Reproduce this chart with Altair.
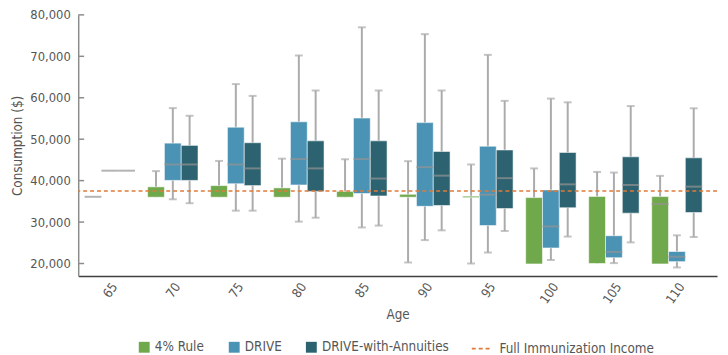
import altair as alt
import pandas as pd

FONT = "DejaVu Sans Condensed, Liberation Sans Narrow, sans-serif"
TEXT = "#555555"

ages = ["65", "70", "75", "80", "85", "90", "95", "100", "105", "110"]
series = ["4% Rule", "DRIVE", "DRIVE-with-Annuities"]
colors = ["#70A84C", "#4A93B5", "#2D6370"]

# 4% Rule
rule_min = [None, None, None, None, None, 20250, 20000, None, None, None]
rule_q1 = [None, 36000, 36000, 36000, 36000, 36000, 35900, 19900, 20000, 19900]
rule_med = [36100, None, None, None, None, None, None, None, None, 34350]
rule_q3 = [None, 38500, 38800, 38250, 37400, 36700, 36250, 35900, 36200, 36150]
rule_max = [None, 42300, 44750, 45300, 45150, 44700, 43900, 42950, 42100, 41150]

# DRIVE
drive_min = [None, 35500, 32750, 30100, 28700, 25650, 22650, 20850, 20100, 19050]
drive_q1 = [None, 40050, 39250, 38950, 36900, 33800, 29150, 23750, 21400, 20450]
drive_med = [42400, 43900, 43900, 45200, 45200, 43250, 36600, 28950, 22800, 21650]
drive_q3 = [None, 49050, 52900, 54200, 55100, 54000, 48300, 37750, 26700, 22900]
drive_max = [None, 57500, 63300, 70200, 77000, 75350, 70350, 59800, 41950, 26800]

# DRIVE-with-Annuities
annu_min = [None, 34550, 32750, 31050, 29150, 28000, 27850, 26500, 25100, 26400]
annu_q1 = [None, 40050, 38800, 37400, 36300, 34000, 33250, 33450, 32150, 32300]
annu_med = [42400, 43900, 42950, 42950, 40500, 41200, 40600, 39100, 38950, 38550]
annu_q3 = [None, 48500, 49150, 49600, 49600, 47050, 47400, 46800, 45750, 45500]
annu_max = [None, 55650, 60450, 61750, 61750, 61750, 59250, 58900, 58000, 57450]

ref_label = "Full Immunization Income"
ref_value = 37500
y_ticks = [20000, 30000, 40000, 50000, 60000, 70000, 80000]

stats = {
    series[0]: (rule_min, rule_q1, rule_med, rule_q3, rule_max),
    series[1]: (drive_min, drive_q1, drive_med, drive_q3, drive_max),
    series[2]: (annu_min, annu_q1, annu_med, annu_q3, annu_max),
}
rows = []
for s, (mn, q1, md, q3, mx) in stats.items():
    for i, a in enumerate(ages):
        rows.append(dict(age=a, series=s, mn=mn[i], q1=q1[i], med=md[i], q3=q3[i], mx=mx[i]))
df = pd.DataFrame(rows)

whisk = df[df["mx"].notna()].copy()
whisk["lo"] = whisk["mn"].fillna(whisk["q1"])
boxes = df[df["q1"].notna()]
meds = df[df["med"].notna()]
caps = pd.concat([
    df[df["mx"].notna()][["age", "series", "mx"]].rename(columns={"mx": "v"}),
    df[df["mn"].notna()][["age", "series", "mn"]].rename(columns={"mn": "v"}),
])
ref_df = pd.DataFrame({"name": [ref_label], "value": [ref_value]})
tick_df = pd.DataFrame({"v": y_ticks})

yscale = alt.Scale(domain=[17000, 80000], nice=False, zero=False)

x_enc = alt.X(
    "age:N", sort=ages,
    scale=alt.Scale(paddingInner=0.2, paddingOuter=0.169, align=0.3),
    axis=alt.Axis(title="Age", labelAngle=-55, labelPadding=8, labelOffset=5, ticks=False,
                  domainColor="#404040", domainWidth=1.5, titlePadding=2),
)
xo_enc = alt.XOffset("series:N", sort=series,
                     scale=alt.Scale(domain=series, paddingInner=0, paddingOuter=0))

whiskers = alt.Chart(whisk).mark_rule(color="#ababab", strokeWidth=2).encode(
    x=x_enc, xOffset=xo_enc,
    y=alt.Y("lo:Q", scale=yscale, axis=alt.Axis(
        title="Consumption ($)", values=y_ticks, format=",d", ticks=False,
        domainColor="#8c8c8c", domainWidth=1.5, labelPadding=8, titlePadding=5)),
    y2="mx:Q",
)

box = alt.Chart(boxes).mark_bar(stroke="white", strokeOpacity=0.55, strokeWidth=1).encode(
    x=x_enc, xOffset=xo_enc,
    y=alt.Y("q1:Q", scale=yscale), y2="q3:Q",
    color=alt.Color("series:N", sort=series,
                    scale=alt.Scale(domain=series, range=colors),
                    legend=alt.Legend(title=None, orient="none", legendX=60, legendY=329,
                                      direction="horizontal",
                                      symbolType="square", symbolSize=121, symbolStrokeWidth=0,
                                      columnPadding=23, labelOffset=4)),
)

median = alt.Chart(meds).mark_tick(color="#939393", thickness=2, size=17).encode(
    x=x_enc, xOffset=xo_enc, y=alt.Y("med:Q", scale=yscale),
)

cap = alt.Chart(caps).mark_tick(color="#ababab", thickness=2, size=8).encode(
    x=x_enc, xOffset=xo_enc, y=alt.Y("v:Q", scale=yscale),
)

ytick = alt.Chart(tick_df).mark_rule(color="#8c8c8c", strokeWidth=1.5).encode(
    y=alt.Y("v:Q", scale=yscale), x=alt.value(0), x2=alt.value(6),
)

ref = alt.Chart(ref_df).mark_rule(color="#E07B39", strokeWidth=1.5).encode(
    y=alt.Y("value:Q", scale=yscale),
    strokeDash=alt.StrokeDash("name:N", scale=alt.Scale(domain=[ref_label], range=[[4, 3]]),
                              legend=alt.Legend(title=None, orient="none", legendX=397, legendY=326,
                                                symbolType="stroke",
                                                symbolStrokeColor="#E07B39", symbolStrokeWidth=2,
                                                symbolSize=441, labelOffset=6,
                                                symbolDash=[7, 7])),
)

chart = alt.layer(whiskers, box, median, cap, ytick, ref).resolve_scale(
    x="shared", y="shared"
).properties(
    width=646, height=264,
    autosize=alt.AutoSizeParams(type="none"),
    padding={"left": 71, "top": 5, "right": 3, "bottom": 78},
).configure_view(stroke=None).configure_axis(
    grid=False, labelFont=FONT, titleFont=FONT, labelFontSize=13, titleFontSize=13.5,
    labelColor=TEXT, titleColor=TEXT, titleFontWeight="normal",
).configure_legend(
    labelFont=FONT, labelFontSize=13.5, labelColor=TEXT,
)

chart.save("out.html", embed_options={"renderer": "svg", "actions": False})
